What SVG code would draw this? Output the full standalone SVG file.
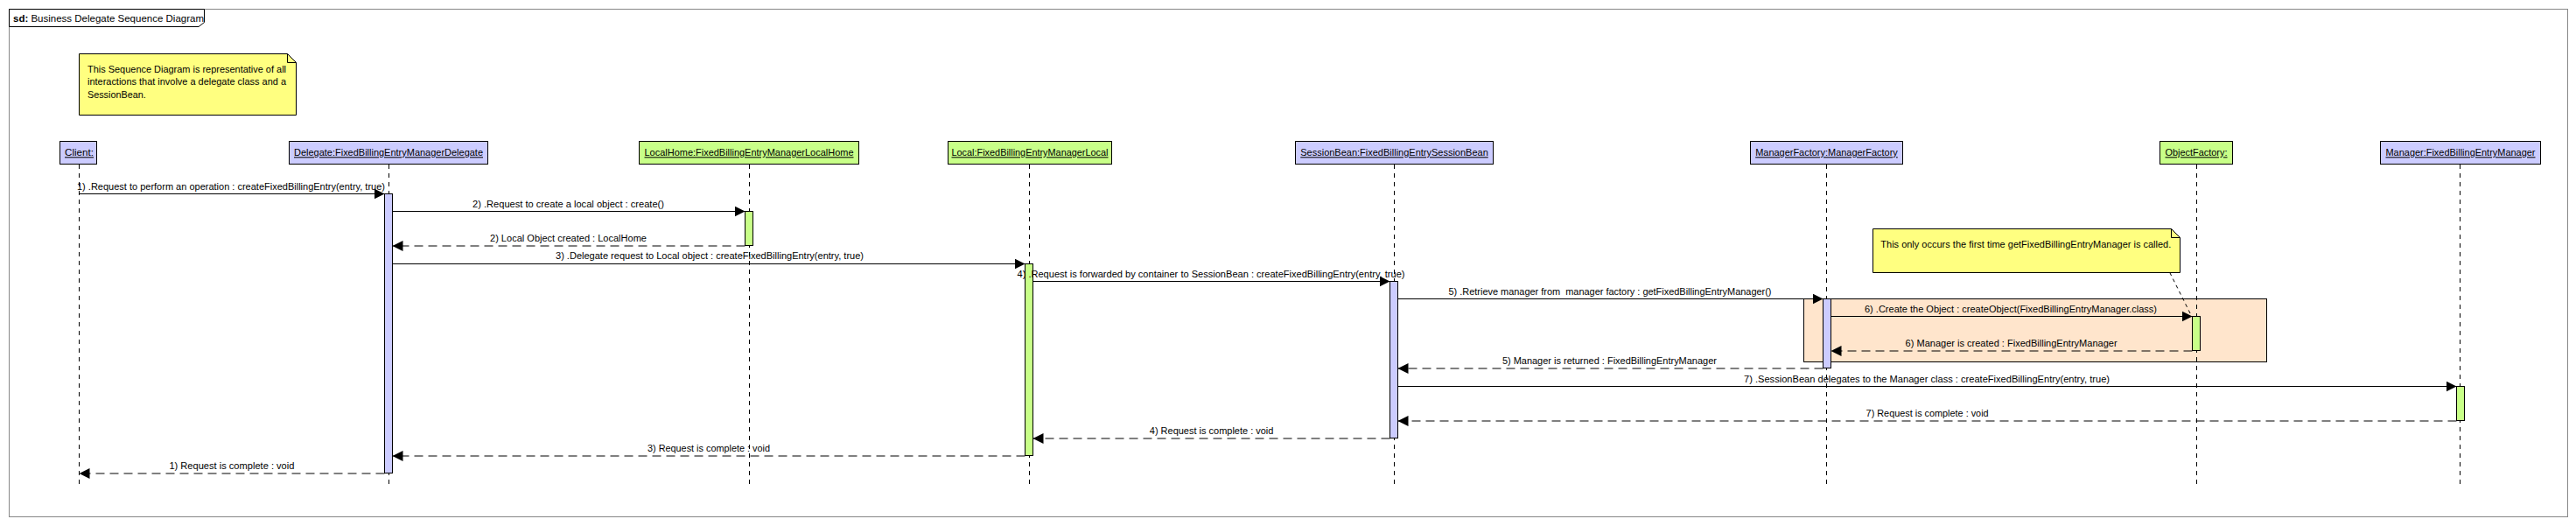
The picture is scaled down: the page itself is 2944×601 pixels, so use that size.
<svg xmlns="http://www.w3.org/2000/svg" width="2944" height="601" viewBox="0 0 2944 601">
<defs>
<style>
text{font-family:"Liberation Sans",Arial,sans-serif;fill:#000}
.lbl{font-size:10px;text-anchor:middle}
.hdr{font-size:10.5px;text-anchor:middle;text-decoration:underline}
.note{font-size:11px}
.box-b{fill:#CCCCFF;stroke:#000;stroke-width:1}
.box-g{fill:#C8FF88;stroke:#000;stroke-width:1}
.life{stroke:#000;stroke-width:1;stroke-dasharray:5,5;fill:none}
.msg{stroke:#000;stroke-width:1;fill:none;marker-end:url(#ah)}
.ret{stroke:#000;stroke-width:1;fill:none;stroke-dasharray:10,6;marker-end:url(#ah)}
.notebox{fill:#FFFF80;stroke:#000;stroke-width:1}
</style>
<marker id="ah" markerUnits="userSpaceOnUse" markerWidth="12" markerHeight="12" refX="12" refY="6" orient="auto">
<path d="M0,0 L12,6 L0,12 z" fill="#000"/>
</marker>
</defs>
<rect x="0" y="0" width="2944" height="601" fill="#fff"/>
<g id="frame">
<rect x="10.5" y="10.5" width="2924" height="580" fill="none" stroke="#888" stroke-width="1"/>
<path d="M10.5,10.5 L233.5,10.5 L233.5,25.5 L227,30.5 L10.5,30.5 Z" fill="#fff" stroke="#000" stroke-width="1"/>
<text x="15" y="25" style="font-size:11.5px"><tspan font-weight="bold">sd:</tspan> Business Delegate Sequence Diagram</text>
</g>
<g id="note1">
<path d="M90.5,61.5 L328.5,61.5 L338.5,71.5 L338.5,131.5 L90.5,131.5 Z" class="notebox"/>
<path d="M328.5,61.5 L328.5,71.5 L338.5,71.5" fill="none" stroke="#000"/>
<text class="note" x="100" y="82.7" textLength="227" lengthAdjust="spacingAndGlyphs">This Sequence Diagram is representative of all</text>
<text class="note" x="100" y="97.3" textLength="227" lengthAdjust="spacingAndGlyphs">interactions that involve a delegate class and a</text>
<text class="note" x="100" y="112.3" textLength="66.7" lengthAdjust="spacingAndGlyphs">SessionBean.</text>
</g>
<g id="client">
<rect class="box-b" x="68.5" y="161.5" width="42" height="26"/>
<text class="hdr" x="90.5" y="178.3" textLength="33" lengthAdjust="spacingAndGlyphs">Client:</text>
<line class="life" x1="90.5" y1="188" x2="90.5" y2="555"/>
</g>
<g id="delegate">
<rect class="box-b" x="330.5" y="161.5" width="227" height="26"/>
<text class="hdr" x="444" y="178.3" textLength="216" lengthAdjust="spacingAndGlyphs">Delegate:FixedBillingEntryManagerDelegate</text>
<line class="life" x1="444.5" y1="188" x2="444.5" y2="555"/>
<rect class="box-b" x="439.5" y="221.5" width="9" height="319"/>
</g>
<g id="localhome">
<rect class="box-g" x="730.5" y="161.5" width="251" height="26"/>
<text class="hdr" x="856" y="178.3" textLength="239" lengthAdjust="spacingAndGlyphs">LocalHome:FixedBillingEntryManagerLocalHome</text>
<line class="life" x1="856.5" y1="188" x2="856.5" y2="555"/>
<rect class="box-g" x="851.5" y="241.5" width="9" height="39"/>
</g>
<g id="local">
<rect class="box-g" x="1083.5" y="161.5" width="187" height="26"/>
<text class="hdr" x="1177" y="178.3" textLength="179" lengthAdjust="spacingAndGlyphs">Local:FixedBillingEntryManagerLocal</text>
<line class="life" x1="1176.5" y1="188" x2="1176.5" y2="555"/>
<rect class="box-g" x="1171.5" y="301.5" width="9" height="219"/>
</g>
<g id="sessionbean">
<rect class="box-b" x="1480.5" y="161.5" width="226" height="26"/>
<text class="hdr" x="1593.5" y="178.3" textLength="214.5" lengthAdjust="spacingAndGlyphs">SessionBean:FixedBillingEntrySessionBean</text>
<line class="life" x1="1593.5" y1="188" x2="1593.5" y2="555"/>
<rect class="box-b" x="1588.5" y="321.5" width="9" height="179"/>
</g>
<g id="fragment">
<rect x="2061.5" y="341.5" width="529" height="72" fill="#FFE5CC" stroke="#000" stroke-width="1"/>
</g>
<g id="managerfactory">
<rect class="box-b" x="2000.5" y="161.5" width="174" height="26"/>
<text class="hdr" x="2087.5" y="178.3" textLength="162.6" lengthAdjust="spacingAndGlyphs">ManagerFactory:ManagerFactory</text>
<line class="life" x1="2087.5" y1="188" x2="2087.5" y2="555"/>
<rect class="box-b" x="2083.5" y="341.5" width="9" height="79"/>
</g>
<g id="objectfactory">
<rect class="box-g" x="2468.5" y="161.5" width="83" height="26"/>
<text class="hdr" x="2510" y="178.3" textLength="71" lengthAdjust="spacingAndGlyphs">ObjectFactory:</text>
<line class="life" x1="2510.5" y1="188" x2="2510.5" y2="555"/>
<rect class="box-g" x="2505.5" y="361.5" width="9" height="39"/>
</g>
<g id="manager">
<rect class="box-b" x="2720.5" y="161.5" width="183" height="26"/>
<text class="hdr" x="2812" y="178.3" textLength="171" lengthAdjust="spacingAndGlyphs">Manager:FixedBillingEntryManager</text>
<line class="life" x1="2811.5" y1="188" x2="2811.5" y2="555"/>
<rect class="box-g" x="2807.5" y="441.5" width="9" height="39"/>
</g>
<g id="note2">
<path d="M2140.5,261.5 L2481.5,261.5 L2491.5,271.5 L2491.5,311.5 L2140.5,311.5 Z" class="notebox"/>
<path d="M2481.5,261.5 L2481.5,271.5 L2491.5,271.5" fill="none" stroke="#000"/>
<text x="2149.3" y="282.7" style="font-size:10.5px" textLength="332" lengthAdjust="spacingAndGlyphs">This only occurs the first time getFixedBillingEntryManager is called.</text>
</g>
<g id="connectors">
<line x1="2479.8" y1="311.5" x2="2503.3" y2="358.5" stroke="#000" stroke-width="1" stroke-dasharray="4,4"/>
<line class="msg" x1="90.5" y1="221.5" x2="439.5" y2="221.5"/>
<text class="lbl" x="264" y="216.7" textLength="352" lengthAdjust="spacingAndGlyphs">1) .Request to perform an operation : createFixedBillingEntry(entry, true)</text>
<line class="msg" x1="448.5" y1="241.5" x2="851.5" y2="241.5"/>
<text class="lbl" x="649.5" y="236.7" textLength="219" lengthAdjust="spacingAndGlyphs">2) .Request to create a local object : create()</text>
<line class="ret" x1="851.5" y1="281" x2="448.5" y2="281"/>
<text class="lbl" x="649.5" y="276" textLength="179" lengthAdjust="spacingAndGlyphs">2) Local Object created : LocalHome</text>
<line class="msg" x1="448.5" y1="301.5" x2="1171.5" y2="301.5"/>
<text class="lbl" x="811" y="296" textLength="352" lengthAdjust="spacingAndGlyphs">3) .Delegate request to Local object : createFixedBillingEntry(entry, true)</text>
<line class="msg" x1="1180.5" y1="321.5" x2="1588.5" y2="321.5"/>
<text class="lbl" x="1384" y="316.7" textLength="443" lengthAdjust="spacingAndGlyphs">4) .Request is forwarded by container to SessionBean : createFixedBillingEntry(entry, true)</text>
<line class="msg" x1="1597.5" y1="341.5" x2="2083.5" y2="341.5"/>
<text class="lbl" x="1840" y="336.7" textLength="369" lengthAdjust="spacingAndGlyphs" xml:space="preserve">5) .Retrieve manager from  manager factory : getFixedBillingEntryManager()</text>
<line class="msg" x1="2092.5" y1="361.5" x2="2505.5" y2="361.5"/>
<text class="lbl" x="2298" y="356.7" textLength="334" lengthAdjust="spacingAndGlyphs">6) .Create the Object : createObject(FixedBillingEntryManager.class)</text>
<line class="ret" x1="2505.5" y1="401" x2="2092.5" y2="401"/>
<text class="lbl" x="2298.6" y="396" textLength="242" lengthAdjust="spacingAndGlyphs">6) Manager is created : FixedBillingEntryManager</text>
<line class="ret" x1="2083.5" y1="421" x2="1597.5" y2="421"/>
<text class="lbl" x="1839.4" y="416" textLength="245" lengthAdjust="spacingAndGlyphs">5) Manager is returned : FixedBillingEntryManager</text>
<line class="msg" x1="1597.5" y1="441.5" x2="2807.5" y2="441.5"/>
<text class="lbl" x="2202" y="436.7" textLength="418" lengthAdjust="spacingAndGlyphs">7) .SessionBean delegates to the Manager class : createFixedBillingEntry(entry, true)</text>
<line class="ret" x1="2807.5" y1="481" x2="1597.5" y2="481"/>
<text class="lbl" x="2202.6" y="476" textLength="140" lengthAdjust="spacingAndGlyphs">7) Request is complete : void</text>
<line class="ret" x1="1588.5" y1="501" x2="1180.5" y2="501"/>
<text class="lbl" x="1384.6" y="496" textLength="141.6" lengthAdjust="spacingAndGlyphs">4) Request is complete : void</text>
<line class="ret" x1="1171.5" y1="521" x2="448.5" y2="521"/>
<text class="lbl" x="810" y="516" textLength="140" lengthAdjust="spacingAndGlyphs">3) Request is complete : void</text>
<line class="ret" x1="439.5" y1="541" x2="90.5" y2="541"/>
<text class="lbl" x="264.9" y="536" textLength="143" lengthAdjust="spacingAndGlyphs">1) Request is complete : void</text>
</g>
</svg>
